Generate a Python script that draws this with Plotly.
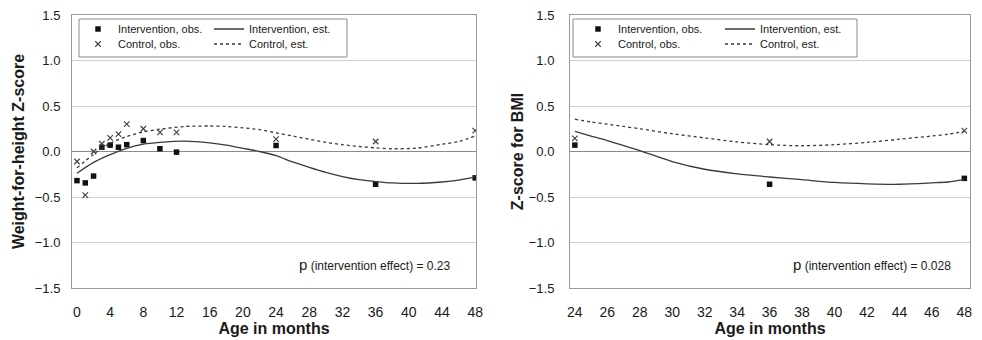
import plotly.graph_objects as go

# The page body has an 8px default margin, so the figure is drawn 8px smaller
# and all reference pixel positions are shifted by OFF.
OFF = 8
W, H = 982 - OFF, 340 - OFF
ML, MR, MT, MB = 72 - OFF, 12 - OFF, 15 - OFF, 52
PW = W - ML - MR
PH = H - MT - MB


def px(x):
    return (x - OFF - ML) / PW


def py(y):
    return (H - MB - (y - OFF)) / PH


# ---------------- data: weight-for-height (left panel) ----------------
wfh_age_obs = [0, 1, 2, 3, 4, 5, 6, 8, 10, 12, 24, 36, 48]
wfh_int_obs = [-0.32, -0.345, -0.27, 0.047, 0.07, 0.047, 0.075, 0.12, 0.03, -0.007, 0.066, -0.36, -0.29]
wfh_ctl_obs = [-0.11, -0.48, 0.0, 0.085, 0.15, 0.19, 0.30, 0.25, 0.21, 0.21, 0.135, 0.11, 0.23]

wfh_age_est = [0, 2, 4, 6, 8, 10, 13, 16, 18, 20, 22, 24, 26, 28, 30, 32, 34, 36, 38, 41, 44, 46, 48]
wfh_int_est = [-0.24, -0.12, -0.035, 0.035, 0.08, 0.10, 0.113, 0.095, 0.07, 0.035, 0.0, -0.045, -0.115,
               -0.175, -0.23, -0.275, -0.31, -0.33, -0.345, -0.35, -0.335, -0.315, -0.28]
wfh_ctl_est = [-0.18, -0.03, 0.09, 0.165, 0.215, 0.245, 0.275, 0.28, 0.275, 0.26, 0.24, 0.205, 0.17,
               0.135, 0.10, 0.075, 0.055, 0.04, 0.03, 0.038, 0.08, 0.11, 0.17]

# ---------------- data: BMI Z-score (right panel) ----------------
bmi_age_obs = [24, 36, 48]
bmi_int_obs = [0.07, -0.36, -0.295]
bmi_ctl_obs = [0.145, 0.11, 0.23]

bmi_age_est = [24, 25, 26, 27, 28, 30, 32, 34, 36, 38, 40, 42, 44, 46, 47, 48]
bmi_int_est = [0.22, 0.17, 0.12, 0.065, 0.01, -0.11, -0.195, -0.245, -0.28, -0.31, -0.34, -0.355, -0.36,
               -0.345, -0.335, -0.31]
bmi_ctl_est = [0.355, 0.325, 0.30, 0.275, 0.25, 0.195, 0.15, 0.105, 0.075, 0.063, 0.075, 0.10, 0.135,
               0.17, 0.19, 0.22]

left_xticks = list(range(0, 49, 4))
right_xticks = list(range(24, 49, 2))
yticks = [-1.5, -1.0, -0.5, 0.0, 0.5, 1.0, 1.5]

p_left = "0.23"
p_right = "0.028"

INK = "#1a1a1a"
LINE = "#3a3a3a"
XCOL = "#3c3c3c"

fig = go.Figure()


def add_panel(xa, ya, age_obs, int_obs, ctl_obs, age_est, int_est, ctl_est, legs):
    fig.add_trace(go.Scatter(x=age_obs, y=int_obs, mode="markers", name="Intervention, obs.",
                             marker=dict(symbol="square", size=5.5, color="#111111"),
                             xaxis=xa, yaxis=ya, legend=legs[0], showlegend=True))
    fig.add_trace(go.Scatter(x=age_est, y=int_est, mode="lines", name="Intervention, est.",
                             line=dict(color=LINE, width=1.3, shape="spline", smoothing=0.8),
                             xaxis=xa, yaxis=ya, legend=legs[1], showlegend=True))
    fig.add_trace(go.Scatter(x=age_obs, y=ctl_obs, mode="markers", name="Control, obs.",
                             marker=dict(symbol="x-thin-open", size=5.5, color=XCOL,
                                         line=dict(color=XCOL, width=1.1)),
                             xaxis=xa, yaxis=ya, legend=legs[2], showlegend=True))
    fig.add_trace(go.Scatter(x=age_est, y=ctl_est, mode="lines", name="Control, est.",
                             line=dict(color=LINE, width=1.3, dash="dot", shape="spline", smoothing=0.8),
                             xaxis=xa, yaxis=ya, legend=legs[3], showlegend=True))


add_panel("x", "y", wfh_age_obs, wfh_int_obs, wfh_ctl_obs, wfh_age_est, wfh_int_est, wfh_ctl_est,
          ["legend", "legend2", "legend3", "legend4"])
add_panel("x2", "y2", bmi_age_obs, bmi_int_obs, bmi_ctl_obs, bmi_age_est, bmi_int_est, bmi_ctl_est,
          ["legend5", "legend6", "legend7", "legend8"])

FONT = "Liberation Sans, Arial, sans-serif"

axis_common = dict(showgrid=False, zeroline=False, showline=True, mirror=True, linecolor="#9a9a9a",
                   linewidth=1, ticks="", tickfont=dict(family=FONT, size=14, color=INK),
                   ticklabeloverflow="allow",
                   title_font=dict(family=FONT, size=16, color=INK), automargin=False)
yaxis_common = dict(showgrid=True, gridcolor="#cfcfcf", gridwidth=1, zeroline=True, zerolinecolor="#8a8a8a",
                    zerolinewidth=1, showline=True, mirror=True, linecolor="#9a9a9a", linewidth=1, ticks="",
                    range=[-1.5, 1.5], tickvals=yticks, ticklabeloverflow="allow",
                    ticktext=[f"{v:.1f}".replace("-", "\u2212") for v in yticks],
                    tickfont=dict(family=FONT, size=13, color=INK),
                    title_font=dict(family=FONT, size=16, color=INK), automargin=False)

fig.update_layout(
    width=W, height=H,
    margin=dict(l=ML, r=MR, t=MT, b=MB),
    paper_bgcolor="white", plot_bgcolor="white",
    font=dict(family=FONT, color=INK),
    showlegend=True,
    xaxis=dict(axis_common, domain=[px(72), px(476)], range=[-0.6, 48.1], tickvals=left_xticks,
               title=dict(text="<b>Age in months</b>", standoff=0), ticklabelstandoff=11, anchor="y"),
    yaxis=dict(yaxis_common, domain=[0, 1], anchor="x",
               title=dict(text="<b>Weight-for-height Z-score</b>", standoff=6), ticklabelstandoff=8),
    xaxis2=dict(axis_common, domain=[px(570), px(970)], range=[23.7, 48.35], tickvals=right_xticks,
                title=dict(text="<b>Age in months</b>", standoff=0), ticklabelstandoff=11, anchor="y2"),
    yaxis2=dict(yaxis_common, domain=[0, 1], anchor="x2",
                title=dict(text="<b>Z-score for BMI</b>", standoff=1), ticklabelstandoff=12),
)

leg_font = dict(family=FONT, size=11, color=INK)


def leg(xp, yp):
    return dict(x=px(xp), y=py(yp), xanchor="left", yanchor="middle", bgcolor="rgba(0,0,0,0)",
                borderwidth=0, font=leg_font, orientation="v", itemwidth=30, visible=True)


fig.update_layout(
    legend=leg(78, 29), legend2=leg(209, 29), legend3=leg(78, 44), legend4=leg(209, 44),
    legend5=leg(578, 29), legend6=leg(720, 29), legend7=leg(578, 44), legend8=leg(720, 44),
)

# legend frames
for x0, x1 in [(79, 347), (573, 857)]:
    fig.add_shape(type="rect", xref="paper", yref="paper", x0=px(x0), x1=px(x1), y0=py(57), y1=py(19),
                  line=dict(color="#8a8a8a", width=1), fillcolor="rgba(0,0,0,0)", layer="above")

# p-value annotations
for xr, pv in [(453, p_left), (953, p_right)]:
    fig.add_annotation(xref="paper", yref="paper", x=px(xr), y=py(264), xanchor="right", yanchor="middle",
                       showarrow=False,
                       text=f"<span style='font-size:15px'>p</span> (intervention effect) = {pv}",
                       font=dict(family=FONT, size=12, color=INK))

fig.write_html("out.html")
